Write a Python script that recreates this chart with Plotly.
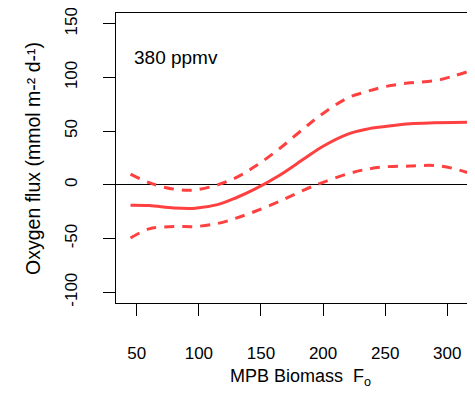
import plotly.graph_objects as go

biomass = [45, 60, 80, 97, 115, 130, 145, 165, 185, 200, 220, 235, 250, 270, 290, 305, 316]
flux_mean = [-19, -19.3, -21.5, -21.7, -18.4, -12, -4, 9, 24.5, 36, 47.3, 51.8, 54.3, 57, 57.8, 58.1, 58.3]
flux_upper = [10, 2, -4, -4.7, 0, 6.8, 17, 33.8, 53, 66.5, 81, 86.8, 91.5, 95, 97, 101.3, 105.3]
flux_lower = [-49.5, -41, -38.8, -38.8, -36, -31, -24.8, -15.3, -4.6, 2.3, 10.3, 14.5, 16.8, 17.5, 18, 15.2, 11.5]
x_ticks = [50, 100, 150, 200, 250, 300]
y_ticks = [-100, -50, 0, 50, 100, 150]
y_tick_labels = ["-100", "-50", "0", "50", "100", "150"]

RED = "#FF4040"
FONT = "Liberation Sans, Arial, sans-serif"

fig = go.Figure()
fig.add_trace(go.Scatter(x=biomass, y=flux_upper, mode="lines", line=dict(color=RED, width=3, dash="10px,8px", shape="spline"), hoverinfo="skip"))
fig.add_trace(go.Scatter(x=biomass, y=flux_lower, mode="lines", line=dict(color=RED, width=3, dash="10px,8px", shape="spline"), hoverinfo="skip"))
fig.add_trace(go.Scatter(x=biomass, y=flux_mean, mode="lines", line=dict(color=RED, width=3, shape="spline"), hoverinfo="skip"))

fig.update_layout(
    width=467, height=390,
    margin=dict(l=108, r=0, t=5, b=95),
    paper_bgcolor="white", plot_bgcolor="white",
    showlegend=False,
    font=dict(family=FONT, size=17, color="black"),
    xaxis=dict(range=[33.3, 322.3], tickvals=x_ticks, ticks="outside", ticklen=12, tickcolor="black",
               showline=True, linecolor="black", linewidth=1, mirror=True, showgrid=False, zeroline=False,
               ticklabelstandoff=23, ticklabeloverflow="allow", tickfont=dict(size=17)),
    yaxis=dict(range=[-110, 160], tickvals=y_ticks, ticktext=y_tick_labels, ticks="outside", ticklen=12,
               tickcolor="black", showline=True, linecolor="black", linewidth=1, mirror=False, showgrid=False,
               zeroline=True, zerolinecolor="black", zerolinewidth=1,
               tickangle=-90, ticklabelstandoff=19, ticklabeloverflow="allow", tickfont=dict(size=17)),
    annotations=[
        dict(text="380 ppmv", xref="paper", yref="paper", x=0.0437, y=0.845, xanchor="left", yanchor="middle",
             showarrow=False, font=dict(size=19)),
        dict(text="MPB Biomass  F<sub>o</sub>", xref="paper", yref="paper", x=0.513, y=-0.258,
             xanchor="center", yanchor="middle", showarrow=False, font=dict(size=18)),
        dict(text="Oxygen flux (mmol m-² d-¹)", xref="paper", yref="paper", x=-0.231, y=0.497,
             xanchor="center", yanchor="middle", textangle=-90, showarrow=False, font=dict(size=19.5)),
    ],
)
fig.write_html("out.html")
